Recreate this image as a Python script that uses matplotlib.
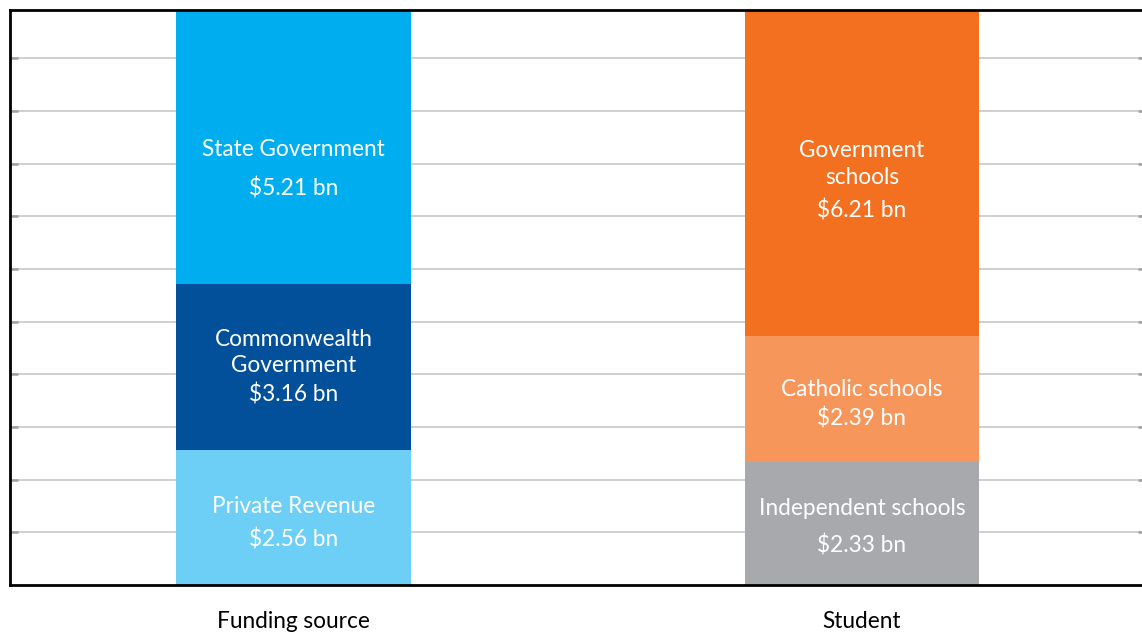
import matplotlib
matplotlib.use("Agg")
import matplotlib.pyplot as plt

categories = ["Funding source", "Student"]
segment_names = [
    ["Private Revenue", "Commonwealth\nGovernment", "State Government"],
    ["Independent schools", "Catholic schools", "Government\nschools"],
]
segment_values = [
    [2.56, 3.16, 5.21],
    [2.33, 2.39, 6.21],
]
segment_colors = [
    ["#6DCFF6", "#03509A", "#00AEEF"],
    ["#A7A9AC", "#F7965A", "#F37021"],
]

# label placement (pixel offsets from segment centre: name block, value line)
label_offsets = [
    [(-14, 19), (-17, 24.5), (0.5, 39.5)],
    [(-18, 19), (-12, 17), (-11.5, 35)],
]
shift = 2.5

W, H = 1142, 632
fig = plt.figure(figsize=(W / 100, H / 100), dpi=100)
ax_left, ax_right, ax_top, ax_bot = 9.5, 1146, 9.5, 585
ax = fig.add_axes([ax_left / W, 1 - ax_bot / H, (ax_right - ax_left) / W, (ax_bot - ax_top) / H])

font = "Lato"
fs = 16.3
bar_w = 0.413
for i, cat in enumerate(categories):
    bottom = 0
    for j, (name, val, col) in enumerate(zip(segment_names[i], segment_values[i], segment_colors[i])):
        ax.bar(i, val, bottom=bottom, width=bar_w, color=col, zorder=2, linewidth=0)
        mid = bottom + val / 2
        dn, dv = label_offsets[i][j]
        ax.annotate(name, (i, mid), xytext=(0, -dn - shift), textcoords="offset pixels",
                    ha="center", va="center", color="white", fontsize=fs,
                    family=font, linespacing=1.32, zorder=3)
        ax.annotate(f"${val:.2f} bn", (i, mid), xytext=(0, -dv - shift), textcoords="offset pixels",
                    ha="center", va="center", color="white", fontsize=fs,
                    family=font, zorder=3)
        bottom += val

total = max(sum(v) for v in segment_values)
ax.set_ylim(0, total)
ax.set_xlim(-0.5, 1.5)
ax.set_yticks(range(1, 11))
ax.set_yticklabels([])
ax.yaxis.grid(True, color="#CCCCCC", linewidth=1.3, zorder=0)
ax.tick_params(axis="y", direction="in", length=6, width=1.8, color="#A0A0A0",
               left=True, right=True)
ax.set_xticks(range(len(categories)))
ax.set_xticklabels(categories, fontsize=fs, family=font)
ax.tick_params(axis="x", length=0, pad=19)
for s in ["left", "top", "bottom"]:
    ax.spines[s].set_linewidth(2)
    ax.spines[s].set_color("black")
ax.spines["right"].set_visible(False)
ax.set_axisbelow(True)

fig.savefig("out.png", dpi=100)
